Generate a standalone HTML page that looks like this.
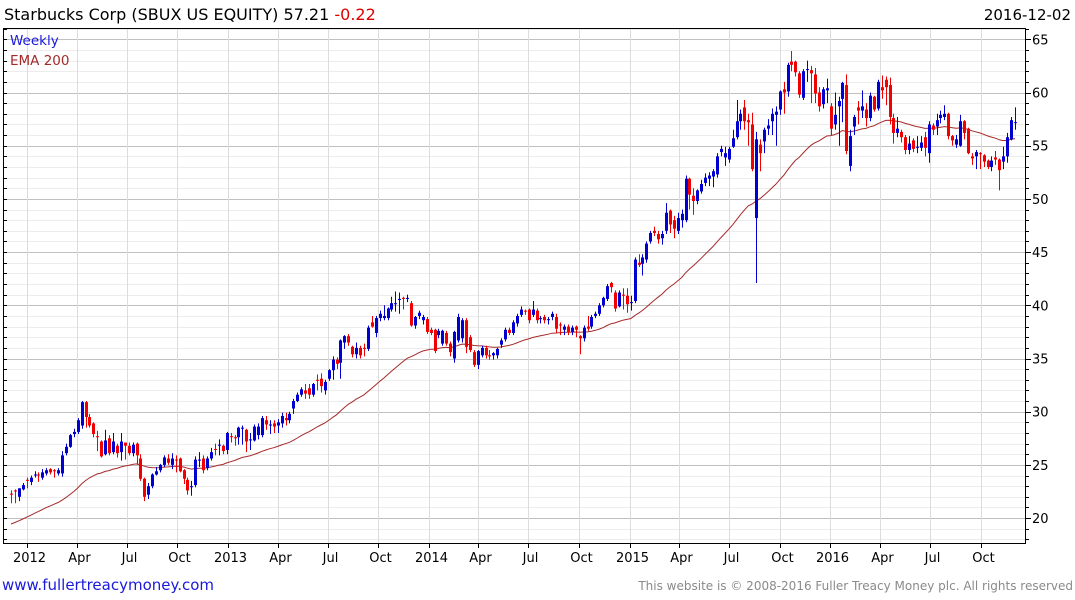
<!DOCTYPE html>
<html><head><meta charset="utf-8">
<style>
html,body{margin:0;padding:0;background:#fff;width:1075px;height:600px;overflow:hidden;font-family:"DejaVu Sans","Liberation Sans",sans-serif;}
svg{display:block;font-family:"DejaVu Sans","Liberation Sans",sans-serif;}
</style></head>
<body>
<svg id="chart" width="1075" height="600" xmlns="http://www.w3.org/2000/svg">
  <text x="4" y="20" font-size="16" fill="#000">Starbucks Corp (SBUX US EQUITY) 57.21 <tspan fill="#e00000">-0.22</tspan></text>
  <text x="1071" y="20" font-size="15" text-anchor="end" fill="#000">2016-12-02</text>
  <g id="grid"></g>
  <g id="ema"></g>
  <g id="candles"></g>
  <g id="axes"></g>
  <text x="10" y="45" font-size="13.5" fill="#1a1adc">Weekly</text>
  <text x="10" y="65" font-size="13.5" fill="#a52a2a">EMA 200</text>
  <text x="2" y="590" font-size="15" fill="#1a1adc">www.fullertreacymoney.com</text>
  <text x="1073" y="590" font-size="12" text-anchor="end" fill="#8a8a8a">This website is © 2008-2016 Fuller Treacy Money plc. All rights reserved</text>
</svg>
<script>
const opens=[22.3,22.6,22.0,22.7,23.6,23.4,24.0,24.1,23.8,24.2,
24.6,24.5,24.2,24.2,26.1,26.7,27.9,28.1,28.7,30.9,
29.5,28.9,27.7,27.2,26.0,27.5,26.2,26.8,26.2,27.1,
26.8,26.1,27.0,25.6,23.7,22.2,23.0,24.1,24.5,25.0,
25.6,25.0,25.5,25.6,24.5,23.6,22.9,23.1,25.4,25.6,
24.7,25.6,26.5,26.8,26.8,26.4,27.7,27.6,27.6,28.4,
28.3,27.3,27.3,27.8,27.8,29.2,28.7,28.9,28.7,28.9,
29.4,29.2,30.3,31.0,31.6,32.0,32.2,31.6,33.0,33.1,
32.0,33.1,33.9,34.9,34.6,36.5,37.1,36.1,35.4,36.0,
36.0,35.9,38.4,37.4,38.8,38.8,38.8,39.6,40.1,40.5,
40.7,40.6,40.2,38.1,39.0,38.6,38.7,37.7,37.7,37.2,
36.4,37.4,36.4,35.0,36.7,36.9,38.6,37.0,35.6,34.4,
35.3,36.0,35.3,35.3,35.3,36.3,36.8,37.7,37.4,38.3,
39.1,39.5,39.6,39.1,39.5,38.7,38.9,38.6,38.9,38.9,
38.2,37.7,38.0,37.5,38.0,37.1,36.9,38.0,38.0,39.0,
39.2,40.0,40.6,42.1,41.2,39.9,41.0,40.9,40.2,40.4,
44.0,43.9,44.3,46.0,47.0,46.7,46.3,47.0,48.9,48.0,
47.0,48.0,48.0,51.9,50.3,49.8,50.7,51.5,51.9,52.1,
52.3,54.4,53.9,53.7,54.9,55.8,57.3,58.6,57.4,57.0,
48.2,55.1,55.4,56.6,57.3,57.9,58.4,60.3,60.1,62.9,
62.9,61.8,59.5,62.1,62.1,61.7,60.0,58.9,60.2,58.7,
57.0,58.7,59.4,60.7,53.1,56.8,58.6,58.3,58.4,57.6,
59.6,58.5,60.5,61.2,60.7,57.6,56.2,56.3,55.8,54.6,
55.5,54.8,54.8,55.8,54.3,56.9,56.8,57.6,57.7,58.0,
55.9,55.1,55.0,57.3,56.6,54.0,54.0,54.3,54.1,53.6,
53.0,53.9,53.7,53.5,54.0,55.6,57.15];
const highs=[22.6,22.7,22.8,23.3,23.8,24.0,24.4,24.3,24.6,24.7,
24.7,24.6,24.7,26.3,27.0,27.9,28.4,29.4,31.0,31.0,
29.8,29.0,28.2,27.3,28.3,27.8,28.0,27.0,28.0,27.1,
27.1,27.1,27.1,26.0,23.8,23.3,24.2,24.8,25.1,25.9,
26.0,26.1,25.9,25.7,24.6,23.8,23.5,25.8,26.2,25.9,
25.8,26.6,27.0,27.4,26.9,28.1,28.0,27.8,28.6,28.7,
28.4,28.0,28.8,28.9,29.6,29.6,29.2,29.2,29.3,29.9,
29.9,30.0,31.2,31.8,32.3,32.6,32.6,32.7,33.5,33.6,
33.0,34.0,35.2,35.1,36.8,37.2,37.3,36.2,36.5,36.2,
36.4,38.1,39.0,39.0,39.5,40.0,39.8,40.8,41.3,41.2,
40.8,41.0,40.4,39.0,39.5,39.1,38.9,37.9,37.8,37.8,
37.7,37.6,36.6,37.6,39.2,38.8,38.8,37.2,35.8,35.8,
36.2,36.2,35.8,35.6,36.0,36.9,37.9,37.9,38.6,39.2,
39.9,39.6,39.7,40.4,39.7,39.0,39.1,38.9,39.4,39.2,
38.4,38.2,38.2,38.1,38.1,37.2,38.1,39.0,39.1,39.4,
40.2,40.8,42.0,42.2,41.4,41.4,41.6,41.6,40.9,44.5,
44.8,44.8,46.0,47.0,47.4,47.0,47.0,49.6,49.0,48.4,
48.7,49.0,52.2,52.0,51.0,50.9,51.8,52.4,52.5,52.8,
54.3,55.0,54.9,54.9,56.5,59.3,58.4,59.3,58.0,58.1,
56.3,55.6,56.7,57.5,58.5,58.7,60.2,61.0,62.8,63.9,
63.0,62.0,62.2,63.0,62.5,62.3,60.5,60.5,61.3,59.0,
60.0,59.6,61.0,61.7,56.5,57.9,59.2,60.2,59.0,60.0,
59.7,61.2,61.6,61.5,61.4,58.0,57.7,56.5,56.0,55.9,
55.7,55.9,55.9,56.3,57.3,57.1,58.0,58.3,58.8,58.1,
56.0,56.0,57.9,57.4,56.7,54.3,54.6,54.4,54.2,53.7,
54.0,54.5,53.8,54.9,56.2,57.7,58.6];
const lows=[21.4,21.4,21.6,22.6,22.8,23.1,23.8,23.4,23.6,24.0,
24.1,23.8,24.0,23.9,25.9,26.6,27.6,27.9,28.4,28.5,
28.5,27.6,26.3,25.7,25.9,25.9,26.0,25.7,25.4,25.5,
25.9,25.8,25.0,23.5,21.6,21.8,22.8,24.0,24.3,24.8,
25.0,24.6,24.3,24.3,23.2,22.2,22.1,22.9,24.8,24.2,
24.5,25.4,25.9,25.9,26.0,26.0,27.1,26.8,26.9,26.9,
26.2,26.4,27.2,27.4,27.6,28.3,27.9,28.0,28.0,28.5,
28.7,28.9,29.8,30.9,31.4,31.2,31.2,31.4,32.0,31.8,
31.6,32.9,33.0,34.0,33.1,35.9,36.2,35.1,35.0,35.0,
35.2,35.7,37.9,37.0,38.5,38.6,38.6,39.4,39.4,39.2,
39.6,40.3,38.0,37.8,38.7,38.2,37.3,37.2,35.5,36.9,
36.2,36.2,35.2,34.6,36.5,36.5,35.5,35.6,34.2,34.0,
35.1,35.0,34.9,34.9,35.0,36.0,36.6,37.2,37.2,38.0,
38.9,39.1,38.3,38.9,38.3,38.3,38.3,38.2,38.6,37.4,
37.2,37.2,37.2,37.2,37.0,35.4,36.6,37.6,37.8,38.8,
39.0,39.8,40.4,41.2,39.4,39.8,39.6,39.3,39.5,40.2,
43.6,42.8,44.0,45.8,46.5,45.8,45.7,46.7,46.8,46.3,
46.7,47.3,47.8,49.0,48.5,49.5,50.5,51.2,51.2,51.1,
52.0,54.0,53.1,53.4,54.8,55.6,56.5,56.5,55.0,52.6,
42.1,52.6,54.3,56.0,56.0,55.0,57.9,58.0,59.6,62.0,
61.5,59.5,59.3,61.0,59.0,59.0,58.2,58.5,59.0,56.0,
56.5,55.0,57.2,54.2,52.6,56.0,57.0,57.6,56.8,57.3,
58.2,58.3,59.4,58.8,57.0,55.2,55.8,55.3,54.2,54.2,
54.4,54.3,54.5,54.0,53.4,56.0,56.0,57.1,57.4,55.6,
55.0,54.8,54.9,55.6,54.2,53.2,52.8,52.8,53.0,52.8,
52.6,53.2,50.8,52.8,53.4,55.5,56.5];
const closes=[22.2,22.5,22.8,23.1,23.5,23.8,24.1,24.0,24.3,24.5,
24.3,24.4,24.5,25.9,26.7,27.8,28.1,29.2,30.9,29.5,
28.7,27.9,27.6,25.8,27.3,26.1,27.2,26.1,27.2,26.8,
26.1,26.9,25.9,23.7,22.0,23.0,24.1,24.4,25.0,25.7,
25.2,25.6,25.4,24.4,23.7,22.6,23.0,25.5,25.5,24.5,
25.6,26.2,26.4,26.9,26.3,28.0,27.6,27.5,28.5,28.5,
27.2,27.4,28.6,28.6,29.4,28.8,28.8,28.6,29.0,29.6,
29.2,29.8,31.0,31.6,32.1,31.7,31.6,32.6,32.9,32.4,
32.8,33.9,34.9,34.5,36.7,37.1,36.5,35.4,36.0,35.3,
35.9,37.9,38.0,38.8,39.2,39.0,39.7,40.2,40.2,40.6,
40.6,40.7,38.1,38.9,39.3,38.9,37.5,37.4,35.7,37.6,
37.6,36.4,35.6,37.5,38.9,38.6,36.1,35.8,34.4,35.7,
36.0,35.3,35.2,35.5,35.9,36.7,37.7,37.4,38.4,39.0,
39.6,39.4,38.6,39.6,38.6,38.8,38.6,38.7,39.2,37.8,
38.1,38.0,37.5,37.9,37.7,36.9,37.9,37.8,38.9,39.2,
40.0,40.7,41.8,41.7,39.7,41.2,40.9,40.1,40.3,44.3,
43.8,44.5,45.8,46.8,46.8,46.2,46.7,48.7,47.6,47.2,
48.2,48.6,51.9,50.4,49.8,50.8,51.4,52.0,52.2,52.6,
54.0,54.7,54.3,54.7,55.7,57.3,58.0,57.3,57.2,52.8,
55.6,54.3,56.5,56.9,58.0,58.2,60.1,60.0,62.6,62.6,
61.9,59.8,62.0,62.2,61.8,59.9,58.7,60.3,60.4,56.6,
57.9,59.2,60.9,54.5,55.9,57.7,58.3,58.7,57.6,59.7,
58.4,61.0,60.2,60.5,57.7,56.2,56.6,55.8,54.6,55.2,
54.7,54.9,55.3,54.8,57.0,56.5,57.4,57.9,58.0,55.9,
55.5,55.6,57.3,56.2,54.3,53.8,54.4,54.2,53.5,53.0,
53.6,53.7,52.7,54.0,55.8,57.4,57.21];
const tickDates=["2012-01-01","2012-04-01","2012-07-01","2012-10-01","2013-01-01","2013-04-01","2013-07-01","2013-10-01","2014-01-01","2014-04-01","2014-07-01","2014-10-01","2015-01-01","2015-04-01","2015-07-01","2015-10-01","2016-01-01","2016-04-01","2016-07-01","2016-10-01"];
const tickLabels=["2012","Apr","Jul","Oct","2013","Apr","Jul","Oct","2014","Apr","Jul","Oct","2015","Apr","Jul","Oct","2016","Apr","Jul","Oct"];
const yTicks=[20,25,30,35,40,45,50,55,60,65];
const emaSeed=19.3;
const emaPeriodWeeks=40;

const NS="http://www.w3.org/2000/svg";
const L=3,R=1026,T=28,B=543;
function yS(v){return 39.3+(65-v)*10.64;}
const n=closes.length;
function xI(i){return 11+i*(1015-11)/(n-1);}
function xD(s){const d=(Date.parse(s)-Date.parse("2012-01-01"))/86400000;return 26.7+d/7*3.85;}
function mk(tag,attrs,parent){const e=document.createElementNS(NS,tag);for(const k in attrs)e.setAttribute(k,attrs[k]);parent.appendChild(e);return e;}
const grid=document.getElementById('grid'),axes=document.getElementById('axes'),cg=document.getElementById('candles'),eg=document.getElementById('ema');
for(let v=18;v<=66;v++){
  const y=Math.round(yS(v))+0.5;if(y<T||y>B)continue;
  const major=v%5===0;
  const ln=mk('line',{x1:L,x2:R,y1:y,y2:y,stroke:major?'#c0c0c0':'#ececec','stroke-width':1},grid);
  
  
  const tk=mk('line',{x1:L,x2:L+4,y1:y,y2:y,stroke:'#000','stroke-width':1},axes);
  
  
  const tr=mk('line',{x1:R,x2:R+(major?5:3),y1:y,y2:y,stroke:'#000','stroke-width':1},axes);
  
  
}
tickDates.forEach((d,k)=>{
  const x=Math.round(xD(d))+0.5;
  const gl=mk('line',{x1:x,x2:x,y1:T,y2:B,stroke:'#dcdcdc','stroke-width':1},grid);
  
  
  const tk=mk('line',{x1:x,x2:x,y1:B,y2:B+5,stroke:'#000','stroke-width':1},axes);
  
  
  const t=mk('text',{x:x+2,y:562,'font-size':13,'text-anchor':'middle',fill:'#000'},axes);
  t.textContent=tickLabels[k];
  
  
});
yTicks.forEach(v=>{
  const t=mk('text',{x:1032,y:yS(v)+5,'font-size':13,fill:'#000'},axes);
  t.textContent=String(v);
  
  
});
const fr=mk('rect',{x:L+0.5,y:T+0.5,width:R-L-1,height:B-T,fill:'none',stroke:'#000','stroke-width':1},axes);


const alpha=2/(emaPeriodWeeks+1);let e=emaSeed;const pts=[];
for(let i=0;i<n;i++){e=e+alpha*(closes[i]-e);pts.push(xI(i).toFixed(1)+','+yS(e).toFixed(1));}
const pl=mk('polyline',{points:pts.join(' '),fill:'none',stroke:'#a52a2a','stroke-width':1},eg);


for(let i=0;i<n;i++){
  const x=Math.round(xI(i));const up=closes[i]>=opens[i];const col=up?'#0000d0':'#f00000';
  const g=mk('g',{},cg);
  
  
  mk('line',{x1:x+0.5,x2:x+0.5,y1:yS(highs[i]),y2:yS(lows[i]),stroke:col,'stroke-width':1},g);
  const yt=yS(Math.max(opens[i],closes[i])),yb=yS(Math.min(opens[i],closes[i]));
  mk('rect',{x:x-1,y:yt,width:3,height:Math.max(1,yb-yt),fill:col},g);
}
</script>
</body></html>
